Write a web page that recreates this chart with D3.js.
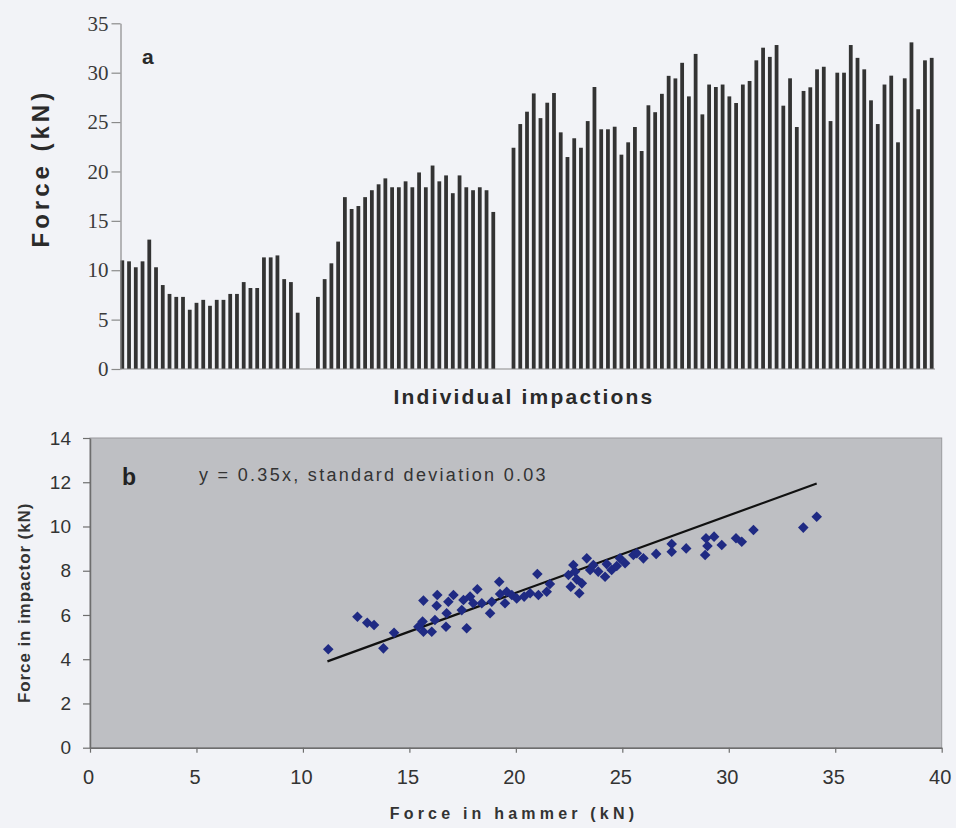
<!DOCTYPE html>
<html>
<head>
<meta charset="utf-8">
<script src="https://cdn.jsdelivr.net/npm/d3@7"></script>
<style>
  body { margin: 0; background: #f2f3f7; }
  svg { display: block; }
</style>
</head>
<body>
<svg id="fig" width="956" height="828"></svg>
<script>
// ---- Panel a: peak force of each impaction (kN), three test series ----
const seriesOne = [11.0, 10.9, 10.3, 10.9, 13.1, 10.3, 8.5, 7.6, 7.3, 7.3, 6.0, 6.7, 7.0, 6.4,
  7.0, 7.0, 7.6, 7.6, 8.8, 8.2, 8.2, 11.3, 11.3, 11.5, 9.1, 8.8, 5.7];
const seriesTwo = [7.3, 9.1, 10.7, 12.9, 17.4, 16.2, 16.5, 17.4, 18.1, 18.7, 19.3, 18.4, 18.4, 19.0,
  18.4, 19.9, 18.4, 20.6, 19.0, 19.6, 17.8, 19.6, 18.4, 18.1, 18.4, 18.1, 15.9];
const seriesThree = [22.4, 24.8, 26.05, 27.9, 25.4, 26.96, 27.94, 23.96, 21.46, 23.36, 22.4, 25.1,
  28.55, 24.27, 24.27, 24.53, 21.7, 22.95, 24.5, 22.07, 26.7, 26.0, 27.86, 29.68, 29.42, 31.0, 27.6,
  31.9, 25.78, 28.8, 28.55, 28.8, 27.6, 26.93, 28.8, 29.16, 31.25, 32.53, 31.6, 32.8, 26.66, 29.43,
  24.5, 28.15, 28.52, 30.34, 30.6, 25.1, 30.0, 30.0, 32.8, 31.5, 30.34, 27.2, 24.8, 28.8, 29.7,
  22.95, 29.43, 33.07, 26.3, 31.25, 31.5];
const seriesGap = [null, null];   // empty category slots between the series
const forceTicks = [0, 5, 10, 15, 20, 25, 30, 35];

// ---- Panel b: impactor force against hammer force (kN) ----
const hammerForce = [11.19, 12.56, 13.02, 13.34, 13.78, 14.28, 15.66, 15.42, 15.62, 15.66, 16.05,
  16.2, 16.28, 16.31, 16.72, 16.75, 16.83, 17.07, 17.46, 17.54, 17.69, 17.85, 18.0, 18.19, 18.4,
  18.79, 18.87, 19.22, 19.26, 19.49, 19.57, 19.81, 20.04, 20.39, 20.67, 21.01, 21.06, 21.45, 21.6,
  22.47, 22.58, 22.7, 22.78, 22.86, 22.98, 23.1, 23.33, 23.49, 23.64, 23.87, 24.19, 24.27, 24.5,
  24.74, 24.89, 25.13, 25.52, 25.68, 25.99, 26.59, 27.32, 27.32, 28.0, 28.93, 29.31, 29.0, 28.89,
  29.67, 30.34, 30.61, 31.16, 33.5, 34.13];
const impactorForce = [4.45, 5.92, 5.65, 5.55, 4.49, 5.2, 6.65, 5.47, 5.7, 5.24, 5.24,
  5.77, 6.42, 6.9, 5.47, 6.08, 6.6, 6.9, 6.22, 6.68, 5.4, 6.83, 6.53, 7.16, 6.53,
  6.08, 6.6, 7.5, 6.95, 6.53, 7.05, 6.9, 6.75, 6.83, 6.98, 7.85, 6.9, 7.05, 7.4,
  7.81, 7.28, 8.26, 7.96, 7.61, 6.98, 7.43, 8.56, 8.03, 8.26, 7.96, 7.73, 8.3, 8.03,
  8.21, 8.56, 8.34, 8.71, 8.79, 8.56, 8.76, 9.21, 8.86, 9.01, 9.47, 9.54, 9.12, 8.71,
  9.16, 9.47, 9.31, 9.84, 9.95, 10.44];
const fitSlope = 0.35;
const fitSD = 0.03;
const fitRange = [11.15, 34.13];
const hammerTicks = [0, 5, 10, 15, 20, 25, 30, 35, 40];
const impactorTicks = [0, 2, 4, 6, 8, 10, 12, 14];

const svg = d3.select("#fig");
const sans = "'Liberation Sans', Arial, sans-serif";
const serif = "'Liberation Serif', 'Times New Roman', serif";

// ================= Panel a =================
const impactForces = [...seriesOne, ...seriesGap, ...seriesTwo, ...seriesGap, ...seriesThree];
const gA = svg.append("g");

const xA = d3.scaleBand()
  .domain(d3.range(impactForces.length))
  .range([120, 934])
  .paddingInner(0.44)
  .paddingOuter(0.06);
const yA = d3.scaleLinear().domain([0, 35]).range([369, 23.3]);

gA.append("g").selectAll("rect")
  .data(impactForces.map((v, i) => ({ i, v })).filter(d => d.v !== null))
  .join("rect")
  .attr("x", d => xA(d.i))
  .attr("width", xA.bandwidth())
  .attr("y", d => yA(d.v))
  .attr("height", d => yA(0) - yA(d.v))
  .attr("fill", "#333333");

// baseline
gA.append("line")
  .attr("x1", 120.5).attr("x2", 935)
  .attr("y1", yA(0)).attr("y2", yA(0))
  .attr("stroke", "#8a8a8a").attr("stroke-width", 1.2);

const axA = gA.append("g")
  .attr("transform", "translate(120.5,0)")
  .call(d3.axisLeft(yA).tickValues(forceTicks).tickSize(9).tickSizeOuter(0).tickPadding(3));
axA.select(".domain").attr("stroke", "#8a8a8a").attr("stroke-width", 1.2);
axA.selectAll(".tick line").attr("stroke", "#8a8a8a").attr("stroke-width", 1.2);
axA.selectAll(".tick text")
  .attr("fill", "#3a3a3a")
  .style("font-family", serif)
  .style("font-size", "21px");

gA.append("text")
  .attr("x", 142).attr("y", 64)
  .style("font-family", sans).style("font-weight", "bold").style("font-size", "21px")
  .attr("fill", "#2a2a2a")
  .text("a");

gA.append("text")
  .attr("transform", `translate(49,${(yA(0) + yA(35)) / 2 - 28}) rotate(-90)`)
  .attr("text-anchor", "middle")
  .style("font-family", sans).style("font-weight", "bold").style("font-size", "24px")
  .style("letter-spacing", "4px")
  .attr("fill", "#2a2a2a")
  .text("Force (kN)");

gA.append("text")
  .attr("x", 524).attr("y", 404)
  .attr("text-anchor", "middle")
  .style("font-family", sans).style("font-weight", "bold").style("font-size", "21px")
  .style("letter-spacing", "2.2px")
  .attr("fill", "#2a2a2a")
  .text("Individual impactions");

// ================= Panel b =================
const gB = svg.append("g");
const xB = d3.scaleLinear().domain([0, 40]).range([90, 941.7]);
const yB = d3.scaleLinear().domain([0, 14]).range([747.7, 438]);

gB.append("rect")
  .attr("x", xB(0)).attr("y", yB(14))
  .attr("width", xB(40) - xB(0)).attr("height", yB(0) - yB(14))
  .attr("fill", "#bebfc3")
  .attr("stroke", "#9a9a9e").attr("stroke-width", 1);

// fitted line through the origin
gB.append("line")
  .attr("x1", xB(fitRange[0])).attr("y1", yB(fitSlope * fitRange[0]))
  .attr("x2", xB(fitRange[1])).attr("y2", yB(fitSlope * fitRange[1]))
  .attr("stroke", "#111").attr("stroke-width", 2.2);

const diamond = d3.symbol().type(d3.symbolSquare).size(56)();
gB.append("g").selectAll("path")
  .data(hammerForce.map((h, i) => [h, impactorForce[i]]))
  .join("path")
  .attr("d", diamond)
  .attr("transform", d => `translate(${xB(d[0])},${yB(d[1])}) rotate(45)`)
  .attr("fill", "#1f2a83");

const axBy = gB.append("g")
  .attr("transform", `translate(${xB(0)},0)`)
  .call(d3.axisLeft(yB).tickValues(impactorTicks).tickSize(7).tickSizeOuter(0).tickPadding(12));
const axBx = gB.append("g")
  .attr("transform", `translate(0,${yB(0)})`)
  .call(d3.axisBottom(xB).tickValues(hammerTicks).tickSize(5).tickSizeOuter(0).tickPadding(17));
[axBy, axBx].forEach(ax => {
  ax.select(".domain").attr("stroke", "#6e6e6e").attr("stroke-width", 1.5);
  ax.selectAll(".tick line").attr("stroke", "#6e6e6e").attr("stroke-width", 1.2);
  ax.selectAll(".tick text").attr("fill", "#333").style("font-family", sans);
});
axBy.selectAll(".tick text").style("font-size", "19px");
axBx.selectAll(".tick text").style("font-size", "20px").attr("dx", "-2");

gB.append("text")
  .attr("x", 122).attr("y", 485)
  .style("font-family", sans).style("font-weight", "bold").style("font-size", "23px")
  .attr("fill", "#222")
  .text("b");

gB.append("text")
  .attr("x", 199).attr("y", 481)
  .style("font-family", sans).style("font-size", "18px")
  .style("letter-spacing", "2.3px")
  .attr("fill", "#333")
  .text(`y = ${fitSlope}x, standard deviation ${fitSD}`);

gB.append("text")
  .attr("transform", `translate(30,${(yB(0) + yB(14)) / 2 + 10}) rotate(-90)`)
  .attr("text-anchor", "middle")
  .style("font-family", sans).style("font-weight", "bold").style("font-size", "17px")
  .style("letter-spacing", "0.9px")
  .attr("fill", "#333")
  .text("Force in impactor (kN)");

gB.append("text")
  .attr("x", 514).attr("y", 819)
  .attr("text-anchor", "middle")
  .style("font-family", sans).style("font-weight", "bold").style("font-size", "16px")
  .style("letter-spacing", "4.2px")
  .attr("fill", "#333")
  .text("Force in hammer (kN)");
</script>
</body>
</html>
